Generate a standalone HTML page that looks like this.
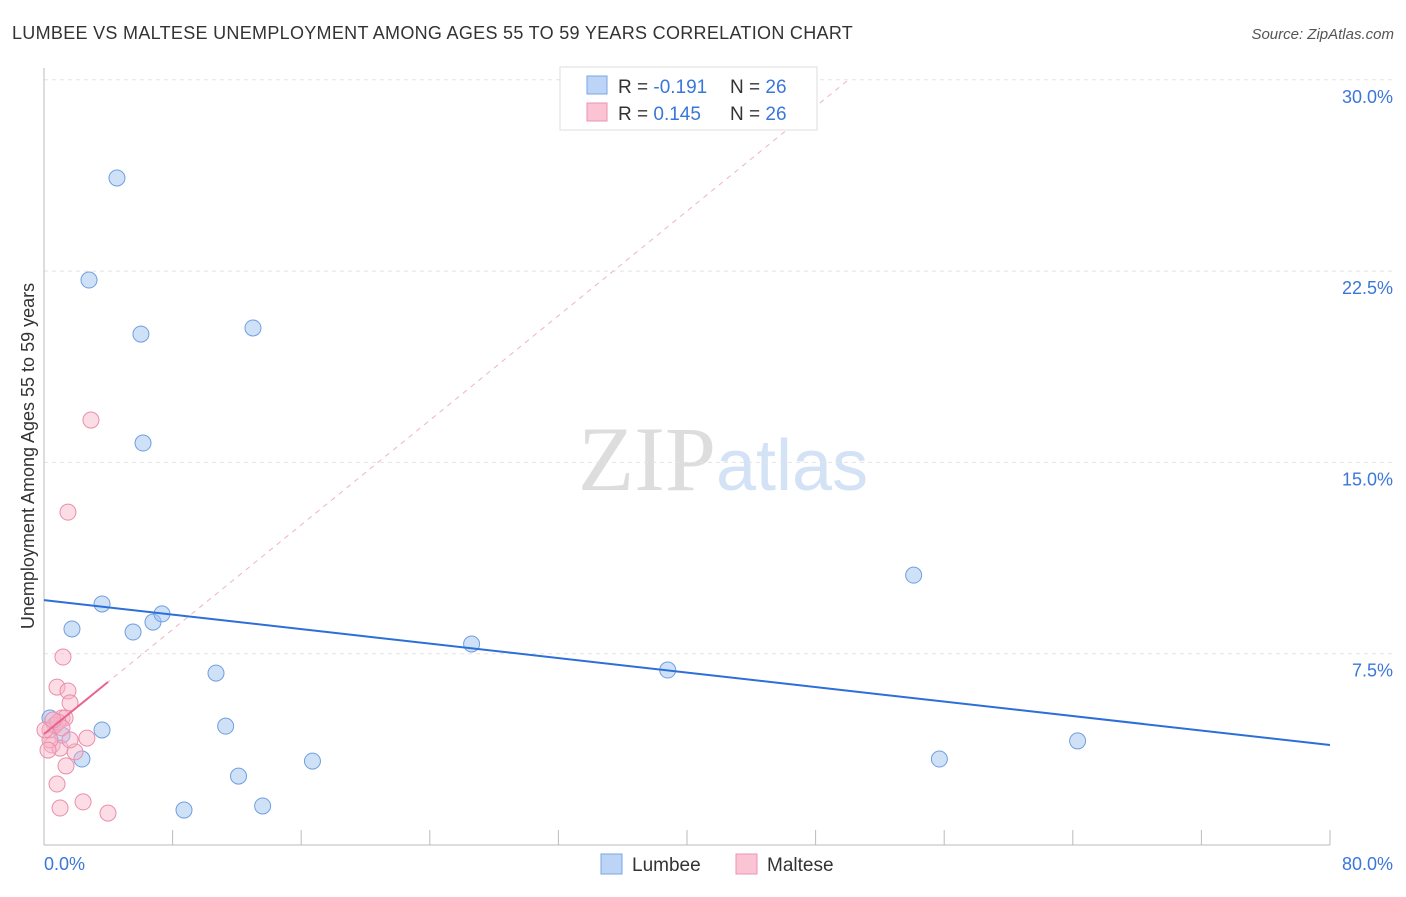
<!DOCTYPE html>
<html><head><meta charset="utf-8"><style>
body{margin:0;background:#fff;font-family:"Liberation Sans",sans-serif;}
</style></head><body>
<svg id="chart" width="1406" height="892" xmlns="http://www.w3.org/2000/svg">
<text x="12" y="39" font-size="18" fill="#333" letter-spacing="0.3">LUMBEE VS MALTESE UNEMPLOYMENT AMONG AGES 55 TO 59 YEARS CORRELATION CHART</text>
<text x="1394" y="39" font-size="15" fill="#555" font-style="italic" text-anchor="end">Source: ZipAtlas.com</text>
<text x="716" y="490" font-size="92" fill="#ddd" font-family="Liberation Serif,serif" text-anchor="end">ZIP</text>
<text x="716" y="490" font-size="72" fill="#d3e2f5">atlas</text>
<text transform="translate(34,456) rotate(-90)" font-size="18" fill="#333" text-anchor="middle">Unemployment Among Ages 55 to 59 years</text>
<g id="grid"></g><g id="axes"></g><g id="marks"></g>
<g>
<rect x="560" y="67" width="257" height="63" fill="#fff" stroke="#ddd"/>
<rect x="587" y="76" width="20" height="18" fill="#bcd4f5" stroke="#7aa6e4"/>
<rect x="587" y="103" width="20" height="18" fill="#fac4d4" stroke="#ee93b0"/>
<text x="618" y="93" font-size="19" fill="#333">R = <tspan fill="#3a77d8">-0.191</tspan></text>
<text x="730" y="93" font-size="19" fill="#333">N = <tspan fill="#3a77d8">26</tspan></text>
<text x="618" y="120" font-size="19" fill="#333">R = <tspan fill="#3a77d8"> 0.145</tspan></text>
<text x="730" y="120" font-size="19" fill="#333">N = <tspan fill="#3a77d8">26</tspan></text>
</g>
<g>
<rect x="601" y="854" width="21" height="20" fill="#bcd4f5" stroke="#7aa6e4"/>
<text x="632" y="871" font-size="19" fill="#333">Lumbee</text>
<rect x="736" y="854" width="21" height="20" fill="#fac4d4" stroke="#ee93b0"/>
<text x="767" y="871" font-size="19" fill="#333">Maltese</text>
</g>
</svg>
<script>
const lumbeeX=[4.54,2.80,6.03,13.0,6.16,3.61,1.74,5.54,6.78,7.34,10.7,26.6,38.8,54.1,3.61,11.3,2.36,12.1,16.7,13.6,8.71,55.7,64.3,1.12,0.37,0.68];
const lumbeeY=[26.15,22.15,20.03,20.27,15.76,9.45,8.47,8.35,8.74,9.06,6.74,7.88,6.86,10.58,4.51,4.66,3.37,2.70,3.29,1.53,1.37,3.37,4.08,4.31,4.98,4.70];
const malteseX=[2.92,1.49,1.18,0.81,1.49,1.62,1.12,1.31,2.67,0.68,0.37,0.50,1.00,1.93,1.37,0.81,1.00,2.43,3.98,0.37,0.06,0.87,1.12,0.25,0.56,1.62];
const malteseY=[16.66,13.05,7.37,6.19,6.04,5.57,4.98,4.98,4.19,4.70,4.51,3.92,3.80,3.65,3.10,2.39,1.45,1.69,1.25,4.12,4.51,4.82,4.59,3.72,4.90,4.12];
const yTicks=[7.5,15,22.5,30];
const yTickLabels=["7.5%","15.0%","22.5%","30.0%"];
const xTickLabels=["0.0%","80.0%"];
const lumbeeTrend=[9.6,3.92];
const malteseTrend=[4.35,6.39];
const xmax=80;
const sx=v=>44+v/xmax*1286;
const sy=v=>845-v/7.5*191.3;
const NS="http://www.w3.org/2000/svg";
function mk(t,a,p){const e=document.createElementNS(NS,t);for(const k in a)e.setAttribute(k,a[k]);p.appendChild(e);return e;}
const grid=document.getElementById('grid'),axes=document.getElementById('axes'),marks=document.getElementById('marks');
yTicks.forEach((t,i)=>{
 const l=mk('line',{x1:44,x2:1394,y1:sy(t),y2:sy(t),stroke:'#e4e4e4','stroke-dasharray':'4,4'},grid);
 
 
 const tx=mk('text',{x:1393,y:sy(t)+23,'font-size':18,fill:'#3a77d8','text-anchor':'end'},axes);
 tx.textContent=yTickLabels[i];
 
 
});
const ax=mk('line',{x1:44,x2:44,y1:68,y2:845,stroke:'#bbb'},axes);


const bx=mk('line',{x1:44,x2:1330,y1:845,y2:845,stroke:'#bbb'},axes);


for(let i=0;i<=10;i++){const t=mk('line',{x1:sx(i*8),x2:sx(i*8),y1:830,y2:845,stroke:'#bbb'},axes);
 
 }
const xl0=mk('text',{x:44,y:870,'font-size':18,fill:'#3a77d8'},axes);xl0.textContent=xTickLabels[0];


const xl1=mk('text',{x:1393,y:870,'font-size':18,fill:'#3a77d8','text-anchor':'end'},axes);xl1.textContent=xTickLabels[1];


const slope=(malteseTrend[1]-malteseTrend[0])/3.98;
const xEnd=(30-malteseTrend[0])/slope;
const dl=mk('line',{x1:sx(0),y1:sy(malteseTrend[0]),x2:sx(xEnd),y2:sy(30),stroke:'#eeb3c5','stroke-dasharray':'5,5','stroke-width':1},marks);


lumbeeX.forEach((x,i)=>{const c=mk('circle',{cx:sx(x),cy:sy(lumbeeY[i]),r:8,fill:'rgba(160,195,240,0.5)',stroke:'#6f9fe0','stroke-width':1},marks);
 
 });
malteseX.forEach((x,i)=>{const c=mk('circle',{cx:sx(x),cy:sy(malteseY[i]),r:8,fill:'rgba(248,180,200,0.45)',stroke:'#ea8eab','stroke-width':1},marks);
 
 });
const bl=mk('line',{x1:sx(0),y1:sy(lumbeeTrend[0]),x2:sx(80),y2:sy(lumbeeTrend[1]),stroke:'#2c6fd8','stroke-width':2},marks);


const pl=mk('line',{x1:sx(0),y1:sy(malteseTrend[0]),x2:sx(3.98),y2:sy(malteseTrend[1]),stroke:'#e8648e','stroke-width':2},marks);


</script>
</body></html>
